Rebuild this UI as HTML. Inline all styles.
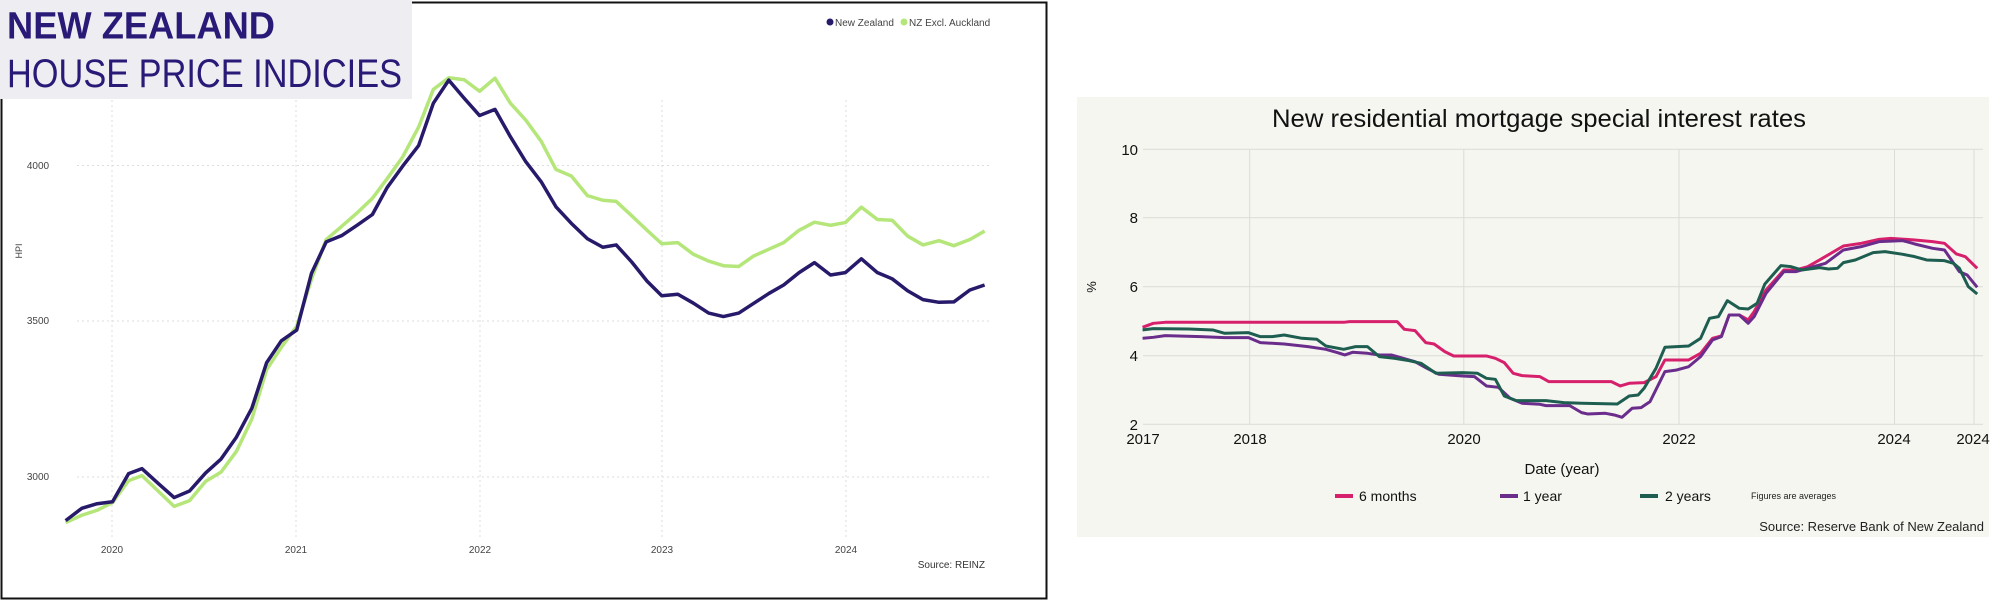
<!DOCTYPE html>
<html><head><meta charset="utf-8"><style>
html,body{margin:0;padding:0;background:#fff;}
svg{display:block;font-family:"Liberation Sans",sans-serif;}
</style></head><body>
<svg width="2000" height="602" viewBox="0 0 2000 602" xmlns="http://www.w3.org/2000/svg">
<rect width="2000" height="602" fill="#fff"/>
<!-- LEFT PANEL -->
<rect x="1.5" y="2.5" width="1045" height="596" fill="#fff" stroke="#111" stroke-width="2"/>
<g stroke="#ddd" stroke-width="1" stroke-dasharray="2,3">
<line x1="77" y1="165.5" x2="990" y2="165.5"/>
<line x1="77" y1="321" x2="990" y2="321"/>
<line x1="77" y1="477" x2="990" y2="477"/>
<line x1="112" y1="100" x2="112" y2="540"/>
<line x1="296" y1="100" x2="296" y2="540"/>
<line x1="480" y1="100" x2="480" y2="540"/>
<line x1="662" y1="100" x2="662" y2="540"/>
<line x1="846" y1="100" x2="846" y2="540"/>
</g>
<rect x="0" y="0" width="412" height="99" fill="#eeeef2"/>
<text x="7" y="38.5" font-size="38" font-weight="bold" fill="#2a1a78" textLength="268" lengthAdjust="spacingAndGlyphs">NEW ZEALAND</text>
<text x="7" y="87" font-size="40" fill="#2a1a78" textLength="395" lengthAdjust="spacingAndGlyphs">HOUSE PRICE INDICIES</text>
<g font-size="10" fill="#444" text-anchor="middle">
<text x="38" y="169">4000</text><text x="38" y="324">3500</text><text x="38" y="480">3000</text>
<text x="112" y="553">2020</text><text x="296" y="553">2021</text><text x="480" y="553">2022</text><text x="662" y="553">2023</text><text x="846" y="553">2024</text>
<text transform="translate(22,251) rotate(-90)" font-size="9">HPI</text>
</g>
<text x="985" y="568" font-size="10" fill="#333" text-anchor="end">Source: REINZ</text>
<circle cx="830" cy="22" r="3.5" fill="#271a6a"/>
<text x="835" y="26" font-size="10" fill="#444">New Zealand</text>
<circle cx="904" cy="22" r="3.5" fill="#b5e67a"/>
<text x="909" y="26" font-size="10" fill="#444">NZ Excl. Auckland</text>
<g transform="scale(0.6698,0.3851)" fill="none" stroke-linejoin="round">
<polyline vector-effect="non-scaling-stroke" stroke="#b5e67a" stroke-width="3.5" points="98,1357 122,1338 145,1325 168,1305 192,1248 212,1235 236,1275 260,1315 283,1300 307,1250 330,1226 353,1172 376,1088 398,960 420,902 443,847 465,725 487,622 510,588 533,553 556,515 578,464 601,408 625,330 647,232 670,202 693,207 716,237 739,203 762,268 785,312 808,367 830,440 853,457 877,508 900,520 920,523 943,560 966,598 988,633 1012,630 1035,660 1058,678 1080,690 1103,692 1125,665 1148,647 1170,630 1193,598 1216,577 1240,585 1262,578 1286,538 1310,570 1332,572 1355,613 1378,636 1402,625 1424,638 1448,622 1470,600"/>
<polyline vector-effect="non-scaling-stroke" stroke="#271a6a" stroke-width="3.5" points="98,1352 122,1320 145,1308 168,1303 192,1230 212,1217 236,1255 260,1292 283,1275 307,1228 330,1192 353,1135 376,1060 398,942 420,885 443,857 465,710 487,628 510,612 533,585 556,557 578,487 601,432 625,378 647,268 670,208 693,255 716,300 739,284 762,355 785,420 808,472 830,537 853,580 877,620 900,642 920,636 943,680 966,730 988,768 1012,764 1035,787 1058,813 1080,822 1103,813 1125,788 1148,762 1170,740 1193,708 1216,682 1240,714 1262,708 1286,672 1310,708 1332,724 1355,755 1378,778 1402,785 1424,784 1448,753 1470,740"/>
</g>
<!-- RIGHT PANEL -->
<rect x="1077" y="97" width="912" height="440" fill="#f6f6f1"/>
<text x="1539" y="127" font-size="25" fill="#111" text-anchor="middle" textLength="534" lengthAdjust="spacingAndGlyphs">New residential mortgage special interest rates</text>
<g stroke="#dcdcd6" stroke-width="1">
<line x1="1143" y1="149.3" x2="1983" y2="149.3"/>
<line x1="1143" y1="217.7" x2="1983" y2="217.7"/>
<line x1="1143" y1="286.7" x2="1983" y2="286.7"/>
<line x1="1143" y1="355.7" x2="1983" y2="355.7"/>
<line x1="1143" y1="424.3" x2="1983" y2="424.3"/>
<line x1="1249.7" y1="149" x2="1249.7" y2="424"/>
<line x1="1463.8" y1="149" x2="1463.8" y2="424"/>
<line x1="1679" y1="149" x2="1679" y2="424"/>
<line x1="1894.5" y1="149" x2="1894.5" y2="424"/>
<line x1="1974" y1="149" x2="1974" y2="424"/>
</g>
<g font-size="15" fill="#111" text-anchor="end">
<text x="1138" y="155">10</text><text x="1138" y="223">8</text><text x="1138" y="292">6</text><text x="1138" y="361">4</text><text x="1138" y="430">2</text>
</g>
<g font-size="15" fill="#111" text-anchor="middle">
<text x="1143" y="444">2017</text><text x="1250" y="444">2018</text><text x="1464" y="444">2020</text><text x="1679" y="444">2022</text><text x="1894" y="444">2024</text><text x="1973" y="444">2024</text>
<text x="1562" y="474" font-size="15">Date (year)</text>
<text transform="translate(1096,287) rotate(-90)" font-size="13">%</text>
</g>
<rect x="1335" y="494" width="18" height="4" fill="#d6206c"/>
<text x="1359" y="501" font-size="14" fill="#111">6 months</text>
<rect x="1500" y="494" width="18" height="4" fill="#6b2d8b"/>
<text x="1523" y="501" font-size="14" fill="#111">1 year</text>
<rect x="1640" y="494" width="18" height="4" fill="#1e5e50"/>
<text x="1665" y="501" font-size="14" fill="#111">2 years</text>
<text x="1751" y="499" font-size="9" fill="#222">Figures are averages</text>
<text x="1984" y="531" font-size="13" fill="#222" text-anchor="end">Source: Reserve Bank of New Zealand</text>
<g transform="translate(1070,90) scale(0.5949,0.3333)" fill="none" stroke-linejoin="round">
<polyline vector-effect="non-scaling-stroke" stroke="#d6206c" stroke-width="3" points="122,712 140,700 160,697 300,697 460,697 470,695 550,695 562,718 580,722 598,758 612,762 630,785 645,798 700,798 715,805 730,818 745,850 760,857 790,860 805,875 910,875 925,888 940,880 965,878 985,860 1000,810 1040,810 1060,790 1080,745 1095,738 1108,675 1125,675 1140,690 1150,665 1170,600 1200,540 1220,540 1240,530 1260,510 1300,468 1330,460 1360,448 1380,445 1420,450 1450,455 1470,460 1490,492 1505,500 1525,535"/>
<polyline vector-effect="non-scaling-stroke" stroke="#6b2d8b" stroke-width="3" points="122,745 140,742 160,737 220,740 260,743 300,743 320,758 360,762 400,770 430,778 450,788 462,795 475,787 500,790 520,795 540,795 560,805 580,815 600,835 620,853 660,858 680,860 700,888 720,892 740,925 760,940 790,943 800,947 840,947 860,968 870,972 900,970 915,975 928,982 945,955 960,953 975,935 1000,845 1020,840 1040,830 1060,800 1080,750 1095,740 1108,675 1125,675 1140,700 1150,680 1170,610 1200,545 1220,545 1240,535 1270,520 1300,480 1330,470 1360,455 1400,452 1420,462 1450,475 1470,480 1495,545 1508,555 1525,592"/>
<polyline vector-effect="non-scaling-stroke" stroke="#1e5e50" stroke-width="3" points="122,720 140,716 200,717 240,720 260,730 300,728 320,740 340,740 360,735 390,745 415,748 430,768 460,778 480,770 500,770 520,800 545,805 570,812 590,820 615,850 660,848 685,850 700,865 715,868 730,918 750,932 800,932 830,938 860,940 920,942 940,918 955,915 965,895 985,835 1000,772 1040,768 1060,745 1075,685 1090,680 1105,632 1125,655 1140,657 1155,640 1168,582 1195,527 1212,530 1230,540 1260,533 1275,537 1290,535 1300,518 1320,510 1350,488 1370,485 1400,493 1420,500 1440,510 1470,512 1485,520 1495,535 1510,590 1525,612"/>
</g>
</svg>
</body></html>
